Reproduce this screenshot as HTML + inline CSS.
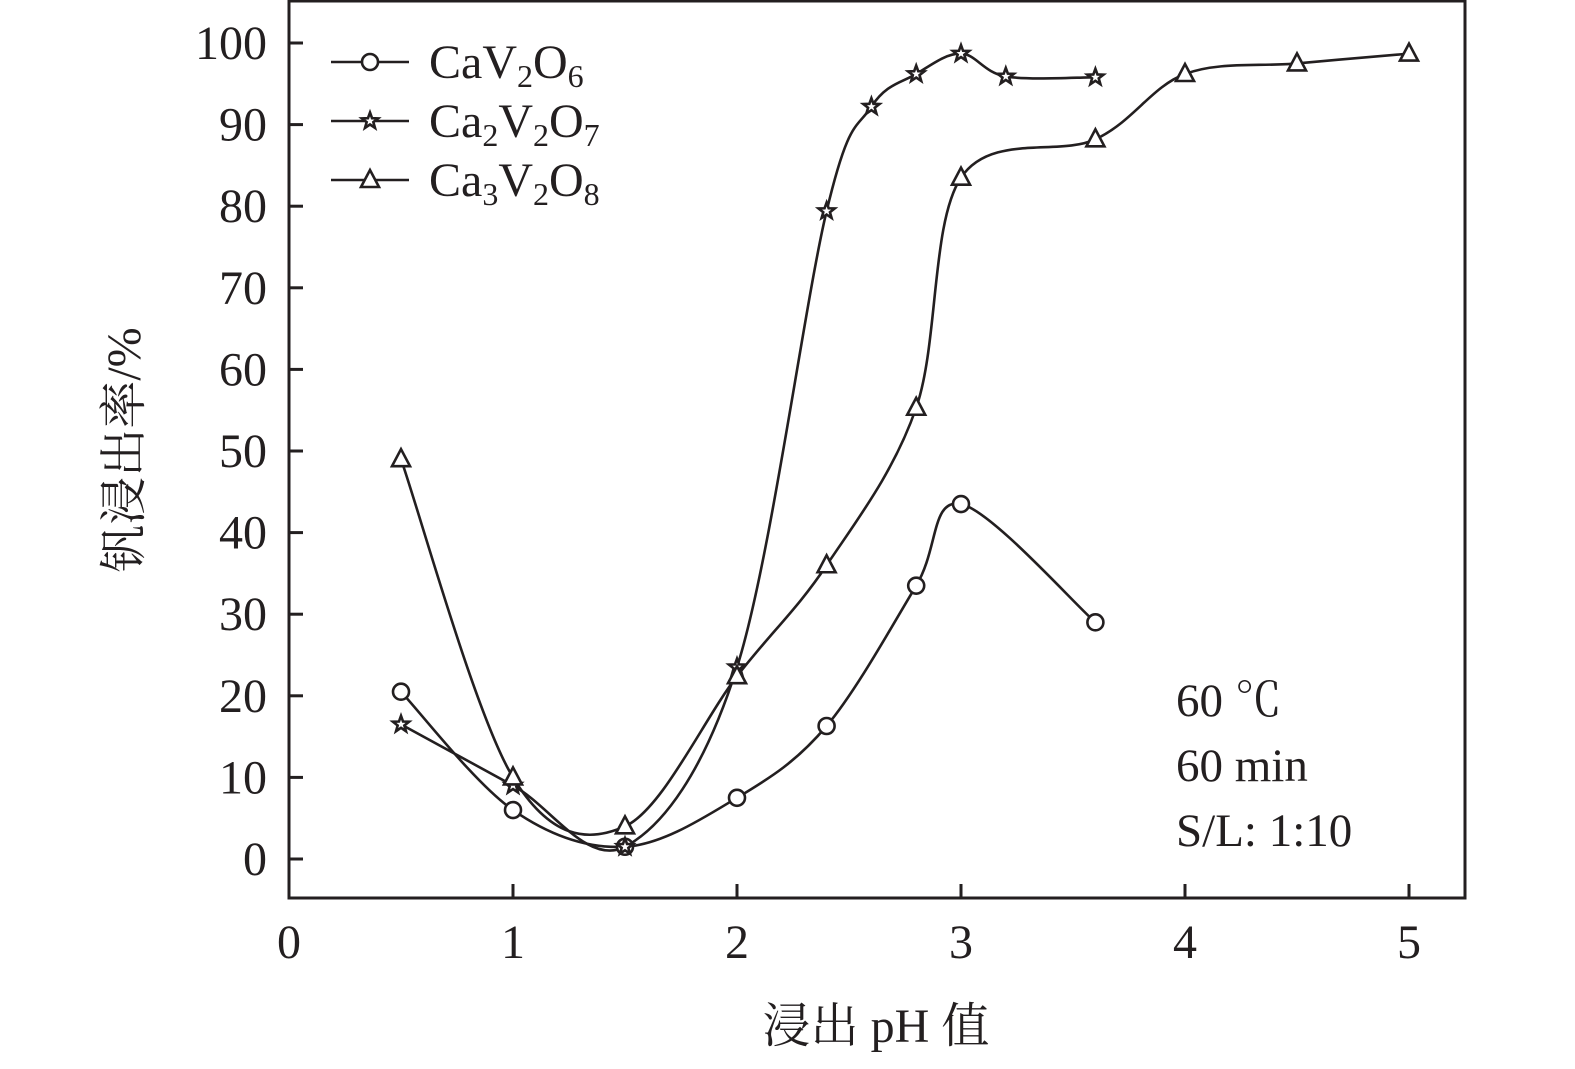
<!DOCTYPE html>
<html><head><meta charset="utf-8"><style>
html,body{margin:0;padding:0;background:#fff;}
svg text{font-family:"Liberation Serif","Noto Serif CJK SC",serif;fill:#231f20;}
</style></head><body>
<svg id="s" width="1575" height="1064" xmlns="http://www.w3.org/2000/svg">
<g stroke="#231f20" stroke-width="3" fill="none">
<path d="M289,1 L1465,1 L1465,898 L289,898 Z"/>
</g>
<g id="ticks" stroke="#231f20" stroke-width="3"></g>
<g id="tl" font-size="48" text-anchor="end"></g>
<g id="xl" font-size="48" text-anchor="middle"></g>
<g id="series" stroke="#231f20" stroke-width="2.6" fill="none"></g>
<g id="marks" stroke="#231f20" stroke-width="2.6" fill="#fff"></g>
<g stroke="#231f20" stroke-width="2.6">
<line x1="331" y1="62" x2="409" y2="62"/><line x1="331" y1="121" x2="409" y2="121"/><line x1="331" y1="180" x2="409" y2="180"/>
</g>
<g id="lm" stroke="#231f20" stroke-width="2.6" fill="#fff"></g>
<g font-size="48">
<text x="429" y="78">CaV<tspan font-size="32" dy="9">2</tspan><tspan dy="-9">O</tspan><tspan font-size="32" dy="9">6</tspan></text>
<text x="429" y="137">Ca<tspan font-size="32" dy="9">2</tspan><tspan dy="-9">V</tspan><tspan font-size="32" dy="9">2</tspan><tspan dy="-9">O</tspan><tspan font-size="32" dy="9">7</tspan></text>
<text x="429" y="196">Ca<tspan font-size="32" dy="9">3</tspan><tspan dy="-9">V</tspan><tspan font-size="32" dy="9">2</tspan><tspan dy="-9">O</tspan><tspan font-size="32" dy="9">8</tspan></text>
</g>
<g font-size="47">
<text x="1176" y="716">60 ℃</text>
<text x="1176" y="781">60 min</text>
<text x="1176" y="846">S/L: 1:10</text>
</g>
<g font-size="48">
<text x="876" y="1042" text-anchor="middle">浸出 pH 值</text>
<text transform="translate(140,450) rotate(-90)" text-anchor="middle">钒浸出率/%</text>
</g>
</svg>
<script>
var NS="http://www.w3.org/2000/svg";
function X(v){return 289+224*v;}function Y(v){return 859-8.16*v;}
function el(p,t,a){var e=document.createElementNS(NS,t);for(var k in a)e.setAttribute(k,a[k]);document.getElementById(p).appendChild(e);return e;}
for(var i=0;i<=10;i++){var y=Y(i*10);el("ticks","line",{x1:289,y1:y,x2:303,y2:y});var t=el("tl","text",{x:267,y:y+16});t.textContent=i*10;}
for(var i=0;i<=5;i++){var x=X(i);if(i>0)el("ticks","line",{x1:x,y1:898,x2:x,y2:884});var t=el("xl","text",{x:x,y:958});t.textContent=i;}
var S=[
{m:"o",d:[[0.5,20.5],[1,6],[1.5,1.5],[2,7.5],[2.4,16.3],[2.8,33.5],[3,43.5],[3.6,29]]},
{m:"s",d:[[0.5,16.5],[1,9],[1.5,1.5],[2,23.5],[2.4,79.4],[2.6,92.2],[2.8,96.2],[3,98.7],[3.2,95.9],[3.6,95.8]]},
{m:"t",d:[[0.5,49],[1,10],[1.5,4],[2,22.4],[2.4,36],[2.8,55.3],[3,83.5],[3.6,88.2],[4,96.2],[4.5,97.5],[5,98.7]]}];
function spline(pts){var p=pts.map(function(a){return[X(a[0]),Y(a[1])]});var d="M"+p[0];for(var i=0;i<p.length-1;i++){var p0=p[i-1]||p[i],p1=p[i],p2=p[i+1],p3=p[i+2]||p2;var c1=[p1[0]+(p2[0]-p0[0])/6,p1[1]+(p2[1]-p0[1])/6],c2=[p2[0]-(p3[0]-p1[0])/6,p2[1]-(p3[1]-p1[1])/6];d+=" C"+c1+" "+c2+" "+p2;}return d;}
function mark(g,m,x,y){if(m=="o")el(g,"circle",{cx:x,cy:y,r:8});else if(m=="t")el(g,"polygon",{points:(x-9)+","+(y+7)+" "+(x+9)+","+(y+7)+" "+x+","+(y-10)});else{var s="";for(var k=0;k<10;k++){var r=k%2?3.5:8.5,a=-Math.PI/2+k*Math.PI/5;s+=(x+r*Math.cos(a))+","+(y+r*Math.sin(a))+" ";}el(g,"polygon",{points:s});}}
S.forEach(function(s){el("series","path",{d:spline(s.d)});s.d.forEach(function(a){mark("marks",s.m,X(a[0]),Y(a[1]));});});
mark("lm","o",370,62);mark("lm","s",370,121);mark("lm","t",370,180);
</script>
</body></html>
